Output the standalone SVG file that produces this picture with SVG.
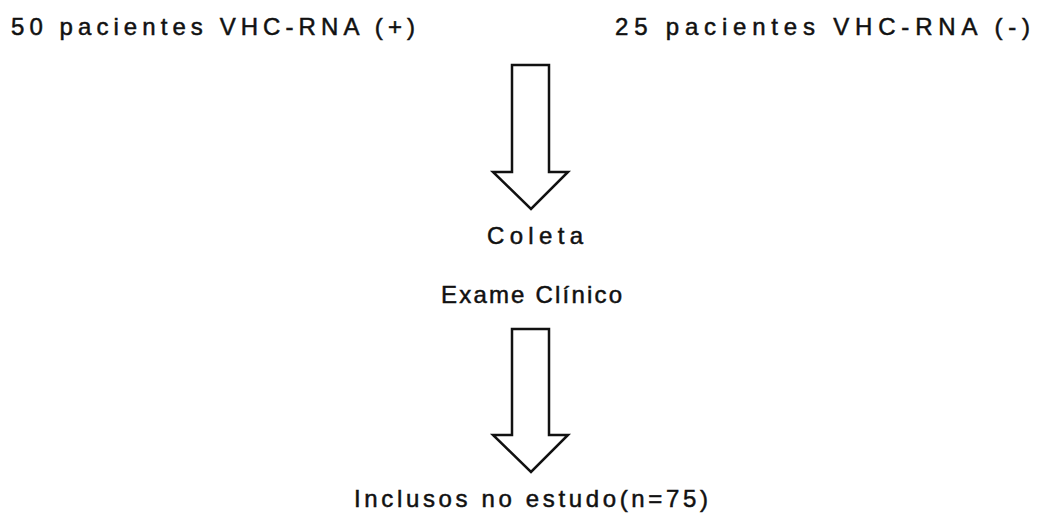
<svg xmlns="http://www.w3.org/2000/svg" width="1037" height="514" viewBox="0 0 1037 514">
<style>
  .t { font-family: "Liberation Sans", Arial, sans-serif; font-size: 24px; fill: #111; stroke: #111; stroke-width: 0.5; }
  .arrow { fill: #fff; stroke: #111; stroke-width: 2.5; stroke-linejoin: miter; }
</style>
<rect width="1037" height="514" fill="#fff"/>
<g id="node-pos">
  <text class="t" x="11" y="35" textLength="404" lengthAdjust="spacing">50 pacientes VHC-RNA (+)</text>
</g>
<g id="node-neg">
  <text class="t" x="615" y="35" textLength="415" lengthAdjust="spacing">25 pacientes VHC-RNA (-)</text>
</g>
<g id="node-coleta">
  <text class="t" x="487" y="244" textLength="96" lengthAdjust="spacing">Coleta</text>
</g>
<g id="node-exame">
  <text class="t" x="441" y="303" textLength="181" lengthAdjust="spacing">Exame Clínico</text>
</g>
<g id="node-inclusos">
  <text class="t" x="354" y="507" textLength="354" lengthAdjust="spacing">Inclusos no estudo(n=75)</text>
</g>
<g id="connectors">
  <polygon class="arrow" points="512,65 549,65 549,172 568,172 531,209 493,172 512,172"/>
  <polygon class="arrow" points="512,329 549,329 549,435 568,435 531,472 493,435 512,435"/>
</g>
</svg>
